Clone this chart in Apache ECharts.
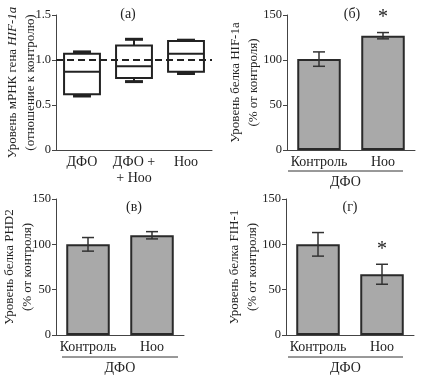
<!DOCTYPE html>
<html><head><meta charset="utf-8">
<script src="https://cdn.jsdelivr.net/npm/echarts@6/dist/echarts.min.js"></script>
<style>html,body{margin:0;padding:0;background:#fff}#c{width:421px;height:375px}</style>
</head><body><div id="c"></div>
<script>
// ---- data ----
const boxCats = ['ДФО', 'ДФО +\n+ Ноо', 'Ноо'];
const boxMin = [0.60, 0.76, 0.85];
const boxQ1  = [0.62, 0.80, 0.87];
const boxMed = [0.87, 0.93, 1.07];
const boxQ3  = [1.07, 1.16, 1.21];
const boxMax = [1.09, 1.23, 1.22];
const refLevel = 1.0;
const boxTicks = [0, 0.5, 1.0, 1.5];

const barCats = ['Контроль', 'Ноо'];
const hifMean = [101, 127];
const hifErr  = [8, 3.5];
const hifSig  = ['', '*'];
const phdMean = [100, 110];
const phdErr  = [7.5, 4];
const phdSig  = ['', ''];
const fihMean = [100, 67];
const fihErr  = [13, 11];
const fihSig  = ['', '*'];
const pctTicks = [0, 50, 100, 150];
const groupLabel = 'ДФО';
const panelTitles = ['(а)', '(б)', '(в)', '(г)'];

// ---- styles ----
const FONT = 'Liberation Serif';
const TXT = '#222';
const AX = '#444';

const chart = echarts.init(document.getElementById('c'), null, {renderer: 'canvas'});

const grids = [
  {left: 56, top: 15, width: 156, height: 135, outerBoundsMode: 'none', containLabel: false},
  {left: 287, top: 15, width: 128, height: 135, outerBoundsMode: 'none', containLabel: false},
  {left: 56, top: 199, width: 128, height: 136, outerBoundsMode: 'none', containLabel: false},
  {left: 286, top: 199, width: 128, height: 136, outerBoundsMode: 'none', containLabel: false}
];

function xAx(gi, cats) {
  return {
    type: 'category', gridIndex: gi, data: cats,
    axisLine: {lineStyle: {color: AX, width: 1}},
    axisTick: {alignWithLabel: true, length: 4, lineStyle: {color: AX}},
    axisLabel: {fontFamily: FONT, fontSize: 14, color: TXT, margin: 4, lineHeight: 16, interval: 0}
  };
}
function yAx(gi, ticks, nameRich, gap, fmt) {
  return {
    type: 'value', gridIndex: gi, min: ticks[0], max: ticks[ticks.length - 1],
    interval: ticks[1] - ticks[0],
    splitLine: {show: false},
    axisLine: {show: true, lineStyle: {color: AX, width: 1}},
    axisTick: {show: true, length: 4, lineStyle: {color: AX}},
    axisLabel: {fontFamily: FONT, fontSize: 12.5, color: TXT, margin: 5, formatter: fmt},
    name: nameRich, nameLocation: 'middle', nameGap: gap, nameMoveOverlap: false,
    nameTextStyle: {
      fontFamily: FONT, fontSize: 13, color: TXT, lineHeight: 18, align: 'center',
      rich: {
        n: {fontFamily: FONT, fontSize: 13, color: TXT, lineHeight: 18},
        i: {fontFamily: FONT, fontSize: 13, color: TXT, fontStyle: 'italic', lineHeight: 18}
      }
    }
  };
}

function boxRender(params, api) {
  const i = api.value(0);
  const pMin = api.coord([i, api.value(1)]);
  const pQ1 = api.coord([i, api.value(2)]);
  const pMed = api.coord([i, api.value(3)]);
  const pQ3 = api.coord([i, api.value(4)]);
  const pMax = api.coord([i, api.value(5)]);
  const bw = api.size([1, 0])[0] * 0.69;
  const cw = bw * 0.5;
  const cx = pMed[0];
  const st = {stroke: '#222', lineWidth: 2, fill: null};
  return {type: 'group', children: [
    {type: 'rect', shape: {x: cx - bw / 2, y: pQ3[1], width: bw, height: pQ1[1] - pQ3[1]}, style: st},
    {type: 'line', shape: {x1: cx - bw / 2, y1: pMed[1], x2: cx + bw / 2, y2: pMed[1]}, style: st},
    {type: 'line', shape: {x1: cx, y1: pQ3[1], x2: cx, y2: pMax[1]}, style: st},
    {type: 'line', shape: {x1: cx, y1: pQ1[1], x2: cx, y2: pMin[1]}, style: st},
    {type: 'line', shape: {x1: cx - cw / 2, y1: pMax[1], x2: cx + cw / 2, y2: pMax[1]}, style: {stroke: '#222', lineWidth: 3}},
    {type: 'line', shape: {x1: cx - cw / 2, y1: pMin[1], x2: cx + cw / 2, y2: pMin[1]}, style: {stroke: '#222', lineWidth: 3}}
  ]};
}

function errRender(params, api) {
  const i = api.value(0);
  const m = api.value(1), e = api.value(2);
  const sig = api.value(3);
  const top = api.coord([i, m + e]);
  const bot = api.coord([i, m - e]);
  const cap = 6;
  const st = {stroke: '#333', lineWidth: 1.5};
  const ch = [
    {type: 'line', shape: {x1: top[0], y1: top[1], x2: bot[0], y2: bot[1]}, style: st},
    {type: 'line', shape: {x1: top[0] - cap, y1: top[1], x2: top[0] + cap, y2: top[1]}, style: st},
    {type: 'line', shape: {x1: bot[0] - cap, y1: bot[1], x2: bot[0] + cap, y2: bot[1]}, style: st}
  ];
  if (sig) {
    ch.push({type: 'text', x: top[0], y: top[1] - 15, style: {text: sig, fontFamily: FONT, fontSize: 20, fill: '#222', align: 'center', verticalAlign: 'middle'}});
  }
  return {type: 'group', children: ch};
}

function barSeries(gi, mean, err, sig) {
  return [
    {type: 'bar', xAxisIndex: gi, yAxisIndex: gi, data: mean, barWidth: '68%',
     itemStyle: {color: '#a9a9a9', borderColor: '#2a2a2a', borderWidth: 2}, silent: true, animation: false},
    {type: 'custom', xAxisIndex: gi, yAxisIndex: gi, renderItem: errRender, z: 5, animation: false,
     data: mean.map((v, i) => [i, v, err[i], sig[i]]), encode: {x: 0, y: 1}}
  ];
}

const pctFmt = v => String(v);
const boxFmt = v => (v === 0 ? '0' : v.toFixed(1));

function groupMark(x1, x2, y) {
  return [
    {type: 'line', shape: {x1: x1, y1: y, x2: x2, y2: y}, style: {stroke: '#333', lineWidth: 1}},
    {type: 'text', x: (x1 + x2) / 2, y: y + 11, style: {text: groupLabel, fontFamily: FONT, fontSize: 14, fill: TXT, align: 'center', verticalAlign: 'middle'}}
  ];
}

const titlePos = [[128, 14], [352, 14], [134, 207], [350, 207]];

const option = {
  animation: false,
  grid: grids,
  xAxis: [xAx(0, boxCats), xAx(1, barCats), xAx(2, barCats), xAx(3, barCats)],
  yAxis: [
    yAx(0, boxTicks, '{n|Уровень мРНК гена }{i|HIF-1a}\n{n|(отношение к контролю)}', 16, boxFmt),
    yAx(1, pctTicks, '{n|Уровень белка HIF-1a}\n{n|(% от контроля)}', 24, pctFmt),
    yAx(2, pctTicks, '{n|Уровень белка PHD2}\n{n|(% от контроля)}', 19, pctFmt),
    yAx(3, pctTicks, '{n|Уровень белка FIH-1}\n{n|(% от контроля)}', 24, pctFmt)
  ],
  series: [
    {type: 'custom', xAxisIndex: 0, yAxisIndex: 0, renderItem: boxRender, animation: false,
     data: boxCats.map((c, i) => [i, boxMin[i], boxQ1[i], boxMed[i], boxQ3[i], boxMax[i]]),
     encode: {x: 0, y: [1, 2, 3, 4, 5]},
     markLine: {silent: true, symbol: 'none', label: {show: false},
       lineStyle: {color: '#222', width: 2, type: [7, 4]},
       data: [{yAxis: refLevel}]}},
    ...barSeries(1, hifMean, hifErr, hifSig),
    ...barSeries(2, phdMean, phdErr, phdSig),
    ...barSeries(3, fihMean, fihErr, fihSig)
  ],
  graphic: [
    ...panelTitles.map((t, k) => ({type: 'text', x: titlePos[k][0], y: titlePos[k][1],
      style: {text: t, fontFamily: FONT, fontSize: 14, fill: TXT, align: 'center', verticalAlign: 'middle'}})),
    ...groupMark(288, 403, 171),
    ...groupMark(62, 178, 357),
    ...groupMark(288, 403, 357)
  ]
};
chart.setOption(option);
</script></body></html>
